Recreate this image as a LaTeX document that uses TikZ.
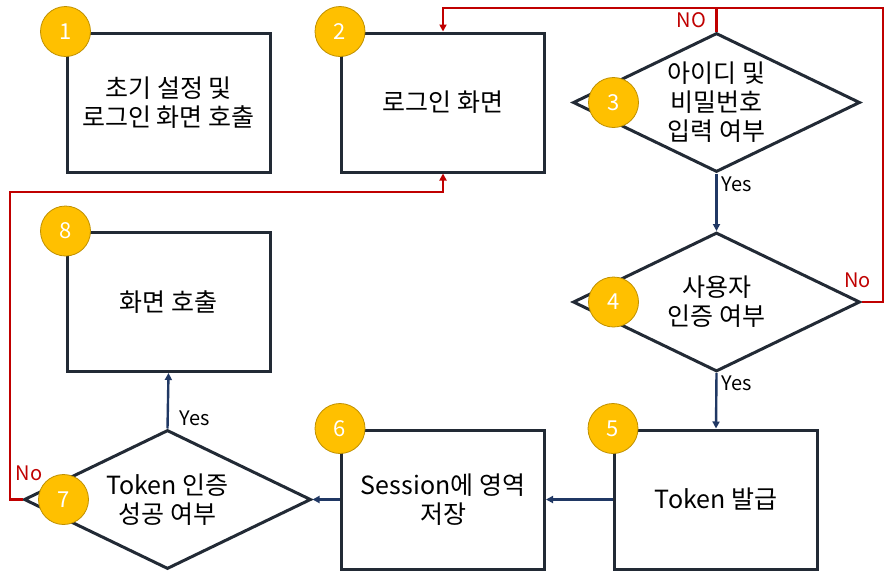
\documentclass[tikz,border=0pt]{standalone}
\usepackage{fontspec}
\setmainfont{Noto Sans CJK KR}
\usetikzlibrary{arrows.meta,positioning,shapes.geometric,calc}
\definecolor{Edge}{HTML}{222A35}
\definecolor{Flow}{HTML}{203864}
\definecolor{Back}{HTML}{C00000}
\definecolor{Badge}{HTML}{FFC000}
\definecolor{BadgeRim}{HTML}{BF9000}

\begin{document}
\begin{tikzpicture}[x=1pt,y=-1pt,font=\fontsize{25}{29}\selectfont,flowline/.style={draw=Flow,line width=2.4pt,-{Triangle[length=7pt,width=7pt]}},backline/.style={draw=Back,line width=2.6pt,-{Triangle[length=7pt,width=7pt]}},process/.style={rectangle,draw=Edge,line width=3pt,minimum width=203pt,minimum height=139pt,align=center},decision/.style={diamond,draw=Edge,line width=3pt,minimum width=287pt,minimum height=139pt,aspect=2.06,inner sep=0pt,align=center},badge/.style={circle,fill=Badge,draw=BadgeRim,line width=0.8pt,minimum size=50pt,inner sep=0pt,text=white,font=\fontsize{22}{22}\selectfont},tag/.style={font=\fontsize{20}{20}\selectfont,inner sep=1pt}]
\fill[white] (0,0) rectangle (886,571);
\useasboundingbox (0,0) rectangle (886,571);
\node[process] (init) at (168.5,102.5) {초기 설정 및\\로그인 화면 호출};
\node[process] (login) at (443,102.5) {로그인 화면};
\node[decision] (input) at (716.5,102.5) {아이디 및\\비밀번호\\입력 여부};
\node[decision] (auth) at (716.5,302) {사용자\\인증 여부};
\node[process] (issue) at (716,499.5) {Token 발급};
\node[process] (store) at (443,499.5) {Session에 영역\\저장};
\node[decision] (check) at (167.5,499.5) {Token 인증\\성공 여부};
\node[process] (screen) at (168.5,302) {화면 호출};
\coordinate (topright) at (883,8);
\coordinate (lowleft) at (10,192);
% forward flow
\draw[flowline] (input.south) node[tag,anchor=north west,xshift=3pt,yshift=-1pt]{Yes} -- (auth.north);
\draw[flowline] (auth.south) node[tag,anchor=north west,xshift=3pt,yshift=-1pt]{Yes} -- (issue.north);
\draw[flowline] (issue.west) -- (store.east);
\draw[flowline] (store.west) -- (check.east);
\draw[flowline] (check.north) node[tag,anchor=south west,xshift=10pt,yshift=1pt]{Yes} -- (screen.south);
% back to login
\draw[backline,-] (input.north) node[tag,text=Back,anchor=south east,xshift=-8pt,yshift=1pt]{NO} -- (input.north |- topright);
\draw[backline] (auth.east) node[tag,text=Back,anchor=south,xshift=-4pt,yshift=12pt]{No} -| (topright) -| (login.north);
\draw[backline] (check.west) node[tag,text=Back,anchor=south west,xshift=-9pt,yshift=16pt]{No} -| (lowleft) -| (login.south);
% step numbers
\node[badge] at (init.north west) {1};
\node[badge] at (login.north west) {2};
\node[badge] at ($(input.west)+(42,0)$) {3};
\node[badge] at ($(auth.west)+(42,0)$) {4};
\node[badge] at (issue.north west) {5};
\node[badge] at (store.north west) {6};
\node[badge] at ($(check.west)+(41,0)$) {7};
\node[badge] at (screen.north west) {8};
\end{tikzpicture}
\end{document}
